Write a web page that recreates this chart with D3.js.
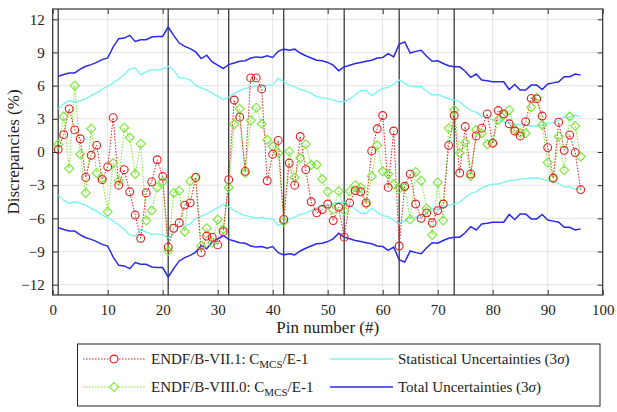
<!DOCTYPE html>
<html>
<head>
<meta charset="utf-8">
<script src="https://cdn.jsdelivr.net/npm/d3@7"></script>
<style>
  body { margin: 0; background: #fff; }
  svg text { font-family: "Liberation Serif", "Times New Roman", serif !important; }
  .grid line { stroke: #e3e3e3; stroke-width: 1; }
  .tick text { font-size: 15px; fill: #222; }
</style>
</head>
<body>
<svg width="617" height="412"></svg>
<script>
// pin numbers (x categories)
const pins = d3.range(1, 97);

// ENDF/B-VII.1 C/E-1 (%)
const endf71 = [0.24, 1.57, 3.9, 2.0, 1.2, -2.3, -0.3, 0.6, -2.5, -1.35,
  3.1, -3.0, -1.6, -3.6, -5.7, -7.8, -3.7, -2.7, -0.7, -2.2,
  -8.6, -6.9, -6.4, -4.8, -4.6, -2.3, -9.1, -7.6, -7.7, -8.4,
  -7.2, -2.5, 4.7, 3.15, -1.75, 6.7, 6.7, 5.7, -2.6, -0.2,
  1.05, -6.1, -1.0, -3.0, 1.4, -1.6, -4.5, -5.5, -5.2, -4.7,
  -6.2, -5.0, -7.7, -4.6, -3.5, -3.6, -4.6, 0.1, 2.1, 3.3,
  -3.2, 1.9, -8.5, -3.1, -2.0, -4.7, -6.0, -5.5, -6.4, -5.3,
  -4.7, 0.6, 3.3, -1.9, 2.3, -2.0, 1.45, 2.15, 3.45, 0.8,
  3.75, 3.45, 2.55, 1.9, 1.45, 2.75, 4.85, 4.8, 3.25, 0.4,
  -2.35, 2.7, 0.15, 1.55, -0.05, -3.4];

// ENDF/B-VIII.0 C/E-1 (%)
const endf80 = [0.7, 3.2, -1.5, 6.0, -0.2, -3.7, 2.1, -1.9, -2.4, -5.4,
  -1.0, -2.6, 2.2, 1.3, -2.0, 0.75, -6.2, -5.3, -3.2, -2.7,
  -8.95, -3.7, -3.5, -7.2, -2.65, -2.3, -8.5, -6.9, -8.2, -6.1,
  -7.0, -3.2, 2.5, 3.9, -1.9, 2.85, 4.0, 2.55, 1.1, 0.5,
  -0.1, -6.3, 0.05, -2.3, -0.55, 0.7, -1.15, -1.15, -2.45, -3.6,
  -5.2, -3.55, -5.3, -3.55, -3.0, -3.2, -4.7, -2.2, 0.6, -1.75,
  -2.0, -2.9, -3.3, -3.2, -6.1, -1.8, -2.6, -5.1, -7.5, -2.75,
  -6.2, 2.15, 3.8, -0.1, 0.85, -2.2, 2.0, 1.7, 0.7, 0.8,
  2.9, 3.35, 3.8, 2.05, 1.7, 1.7, 4.05, 4.9, 2.45, -0.95,
  -2.4, 1.4, -1.65, 3.2, 2.35, -0.4];

// statistical uncertainty 3 sigma (%)
const statUnc = [3.9, 4.35, 4.65, 4.5, 4.65, 4.8, 5.1, 5.35, 5.7, 5.95,
  6.25, 6.6, 7.0, 7.5, 7.6, 7.0, 7.25, 7.45, 7.4, 7.5,
  7.75, 7.4, 6.7, 6.7, 6.5, 6.0, 5.8, 5.6, 5.3, 5.05,
  4.75, 4.95, 5.3, 5.55, 5.75, 5.85, 6.0, 5.9, 6.05, 6.05,
  6.65, 6.35, 6.05, 5.9, 5.65, 5.55, 5.3, 5.0, 4.9, 4.85,
  4.7, 4.55, 4.55, 4.8, 5.15, 5.55, 5.55, 5.1, 5.45, 5.75,
  5.85, 6.15, 6.5, 6.2, 5.95, 5.9, 5.9, 5.5, 5.15, 5.2,
  5.0, 4.8, 4.7, 4.55, 4.1, 3.75, 3.6, 3.25, 3.05, 2.9,
  2.9, 2.75, 2.6, 2.55, 2.45, 2.4, 2.35, 2.35, 2.45, 2.6,
  2.65, 2.85, 3.15, 3.15, 3.35, 3.2];

// total uncertainty 3 sigma (%)
const totalUnc = [6.85, 7.0, 7.15, 7.15, 7.5, 7.75, 7.9, 8.1, 8.35, 8.5,
  9.5, 10.25, 10.3, 10.55, 10.0, 10.15, 10.15, 10.4, 10.45, 10.45,
  11.3, 10.55, 9.85, 9.55, 9.35, 9.05, 8.45, 8.75, 8.15, 7.85,
  7.55, 7.9, 8.05, 8.2, 8.25, 8.5, 8.6, 8.55, 8.7, 8.55,
  9.1, 9.3, 9.2, 9.3, 8.95, 8.7, 8.5, 8.3, 8.25, 8.1,
  7.85, 7.35, 7.7, 7.85, 8.0, 8.1, 8.2, 8.3, 8.5, 8.55,
  8.9, 8.6, 9.75, 9.95, 8.95, 9.1, 9.2, 8.65, 8.2, 8.25,
  8.0, 7.8, 7.7, 7.7, 7.3, 6.75, 7.05, 6.5, 6.45, 6.35,
  6.35, 6.35, 5.65, 6.1, 5.6, 5.6, 6.05, 6.05, 5.65, 6.15,
  6.25, 6.35, 6.8, 6.8, 7.05, 6.95];

// assembly boundaries
const boundaries = [1, 21, 32, 42, 53, 63, 73];
const xTicks = d3.range(0, 101, 10);
const yTicks = [-12, -9, -6, -3, 0, 3, 6, 9, 12];

const svg = d3.select("svg");
const plotLeft = 52.7, plotRight = 602.7, plotTop = 9, plotBottom = 295;

const x = d3.scaleLinear().domain([0, 100]).range([plotLeft, plotRight]);
const y = d3.scaleLinear().domain([-12.93, 12.93]).range([plotBottom, plotTop]);

// grid
const grid = svg.append("g").attr("class", "grid");
grid.selectAll(".gx").data(xTicks).enter().append("line")
    .attr("x1", d => x(d)).attr("x2", d => x(d))
    .attr("y1", plotTop).attr("y2", plotBottom);
grid.selectAll(".gy").data(yTicks).enter().append("line")
    .attr("x1", plotLeft).attr("x2", plotRight)
    .attr("y1", d => y(d)).attr("y2", d => y(d));

// boundary lines
svg.append("g").selectAll("line").data(boundaries).enter().append("line")
    .attr("x1", d => x(d)).attr("x2", d => x(d))
    .attr("y1", plotTop).attr("y2", plotBottom)
    .attr("stroke", "#3a3a3a").attr("stroke-width", 1.3);

// uncertainty bands
const bandLine = (arr, sign) => d3.line()
    .x((d, i) => x(pins[i]))
    .y((d, i) => y(sign * arr[i]))(arr);

[[statUnc, "#77f4f4", 1.3], [totalUnc, "#2a2ae6", 1.5]].forEach(([arr, col, w]) => {
  [1, -1].forEach(s => {
    svg.append("path")
        .attr("d", bandLine(arr, s))
        .attr("fill", "none").attr("stroke", col).attr("stroke-width", w);
  });
});

// series
const redCol = "#dd2020", greenCol = "#77e830";

const seriesLine = d3.line().x((d, i) => x(pins[i])).y(d => y(d));

svg.append("path").attr("d", seriesLine(endf80))
    .attr("fill", "none").attr("stroke", greenCol)
    .attr("stroke-width", 1).attr("stroke-dasharray", "1.5,1.5");
svg.append("path").attr("d", seriesLine(endf71))
    .attr("fill", "none").attr("stroke", redCol)
    .attr("stroke-width", 1).attr("stroke-dasharray", "1.5,1.5");

const diamond = d3.symbol().type(d3.symbolSquare).size(40);

svg.append("g").selectAll("path").data(endf80).enter().append("path")
    .attr("d", diamond)
    .attr("transform", (d, i) => `translate(${x(pins[i])},${y(d)}) rotate(45)`)
    .attr("fill", "none").attr("stroke", greenCol).attr("stroke-width", 1.1);

svg.append("g").selectAll("circle").data(endf71).enter().append("circle")
    .attr("cx", (d, i) => x(pins[i])).attr("cy", d => y(d))
    .attr("r", 3.9)
    .attr("fill", "none").attr("stroke", redCol).attr("stroke-width", 1.1);

// axes, matlab box style with inward ticks
const axisCol = "#333";
svg.append("g").attr("transform", `translate(0,${plotBottom})`)
    .call(d3.axisBottom(x).tickValues(xTicks).tickSizeInner(-5).tickSizeOuter(0).tickPadding(9))
    .call(g => g.select(".domain").remove());
svg.append("g").attr("transform", `translate(0,${plotTop})`)
    .call(d3.axisTop(x).tickValues(xTicks).tickSizeInner(-5).tickSizeOuter(0).tickFormat(""))
    .call(g => g.select(".domain").remove());
svg.append("g").attr("transform", `translate(${plotLeft},0)`)
    .call(d3.axisLeft(y).tickValues(yTicks).tickSizeInner(-5).tickSizeOuter(0).tickPadding(8))
    .call(g => g.select(".domain").remove());
svg.append("g").attr("transform", `translate(${plotRight},0)`)
    .call(d3.axisRight(y).tickValues(yTicks).tickSizeInner(-5).tickSizeOuter(0).tickFormat(""))
    .call(g => g.select(".domain").remove());
svg.selectAll(".tick line").attr("stroke", axisCol);

svg.append("rect")
    .attr("x", plotLeft).attr("y", plotTop)
    .attr("width", plotRight - plotLeft).attr("height", plotBottom - plotTop)
    .attr("fill", "none").attr("stroke", axisCol).attr("stroke-width", 1.2);

// axis titles
svg.append("text")
    .attr("x", (plotLeft + plotRight) / 2).attr("y", 333)
    .attr("text-anchor", "middle")
    .attr("font-size", 17).attr("fill", "#222")
    .text("Pin number (#)");
svg.append("text")
    .attr("transform", `translate(19,${y(0)}) rotate(-90)`)
    .attr("text-anchor", "middle")
    .attr("font-size", 17).attr("fill", "#222")
    .text("Discrepancies (%)");

// legend
const legend = svg.append("g");
legend.append("rect")
    .attr("x", 77.5).attr("y", 344).attr("width", 522.5).attr("height", 62)
    .attr("fill", "#fff").attr("stroke", "#222").attr("stroke-width", 1);

const rowY = [359, 387];

function mcsLabel(g, label, yy) {
  const t = g.append("text").attr("x", 151).attr("y", yy + 5)
      .attr("font-size", 15).attr("fill", "#222");
  t.append("tspan").text(label + ": C");
  t.append("tspan").attr("font-size", 11).attr("dy", 4).text("MCS");
  t.append("tspan").attr("dy", -4).text("/E-1");
}

[redCol, greenCol].forEach((col, i) => {
  legend.append("line")
      .attr("x1", 83).attr("x2", 145).attr("y1", rowY[i]).attr("y2", rowY[i])
      .attr("stroke", col).attr("stroke-width", 1).attr("stroke-dasharray", "1.5,1.5");
});
legend.append("circle").attr("cx", 114).attr("cy", rowY[0]).attr("r", 3.9)
    .attr("fill", "#fff").attr("stroke", redCol).attr("stroke-width", 1.1);
legend.append("path").attr("d", diamond)
    .attr("transform", `translate(114,${rowY[1]}) rotate(45)`)
    .attr("fill", "#fff").attr("stroke", greenCol).attr("stroke-width", 1.1);
mcsLabel(legend, "ENDF/B-VII.1", rowY[0]);
mcsLabel(legend, "ENDF/B-VIII.0", rowY[1]);

[["#77f4f4", "Statistical Uncertainties (3"], ["#2a2ae6", "Total Uncertainties (3"]].forEach(([col, label], i) => {
  legend.append("line")
      .attr("x1", 330).attr("x2", 393).attr("y1", rowY[i]).attr("y2", rowY[i])
      .attr("stroke", col).attr("stroke-width", 1.4);
  const t = legend.append("text").attr("x", 398).attr("y", rowY[i] + 5)
      .attr("font-size", 15).attr("fill", "#222");
  t.append("tspan").text(label);
  t.append("tspan").attr("font-style", "italic").text("σ");
  t.append("tspan").text(")");
});
</script>
</body>
</html>
